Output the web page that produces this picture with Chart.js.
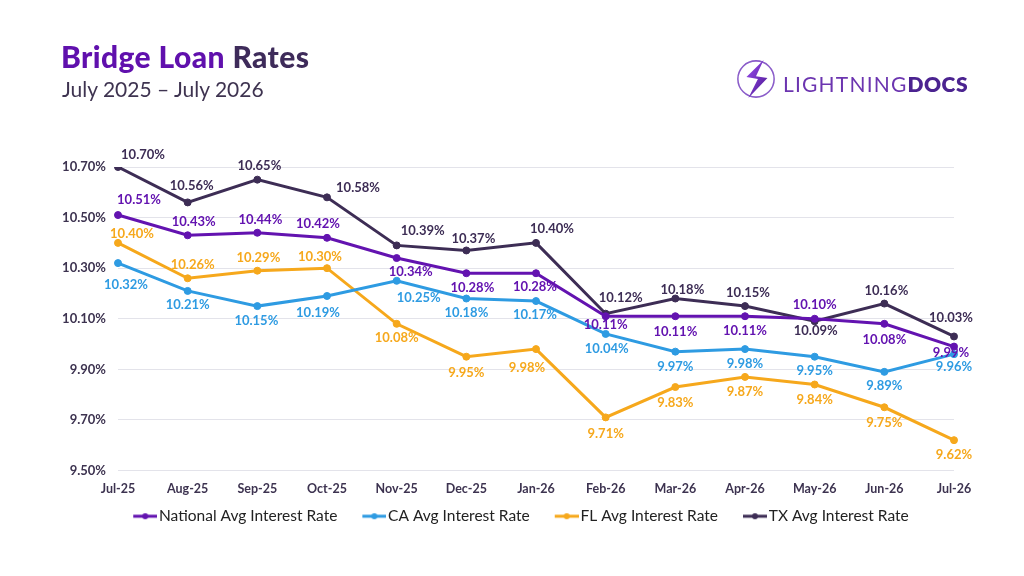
<!DOCTYPE html>
<html>
<head>
<meta charset="utf-8">
<script src="https://cdn.jsdelivr.net/npm/chart.js@4.4.1/dist/chart.umd.min.js"></script>
<style>
html,body{margin:0;padding:0;background:#fff;width:1024px;height:576px;overflow:hidden;font-family:Lato,"Noto Sans",sans-serif}
#wrap{position:relative;width:1024px;height:576px}
#c{position:absolute;left:0;top:0}
.title{position:absolute;left:61px;top:41px;font-size:30px;line-height:1;font-weight:900;letter-spacing:0.4px;white-space:nowrap}
.title .a{color:#6010ad}
.title .b{color:#3e2b5a}
.sub{position:absolute;left:62px;top:78px;font-size:21px;line-height:1;font-weight:400;color:#3e3350;white-space:nowrap}
.logo{position:absolute;left:735px;top:58px;width:42px;height:42px}
.logotext{position:absolute;left:783px;top:73px;font-size:21px;line-height:1;white-space:nowrap;letter-spacing:1.2px}
.logotext .l{color:#6c35b0;font-weight:400}
.logotext .d{color:#4b2390;font-weight:800;letter-spacing:0.5px}
</style>
</head>
<body>
<div id="wrap">
  <canvas id="c" width="1024" height="576"></canvas>
  <div class="title"><span class="a">Bridge Loan</span> <span class="b">Rates</span></div>
  <div class="sub">July 2025 – July 2026</div>
  <svg class="logo" viewBox="0 0 44 44">
    <defs>
      <linearGradient id="g1" x1="0" y1="0" x2="1" y2="1">
        <stop offset="0" stop-color="#9b4df0"/>
        <stop offset="1" stop-color="#4a168f"/>
      </linearGradient>
    </defs>
    <circle cx="22" cy="22" r="19" fill="none" stroke="#8a5cc9" stroke-width="1.6"/>
    <path d="M30 2 L12 20 L24 22 L14 42 L34 21 L22 19 Z" fill="url(#g1)"/>
  </svg>
  <div class="logotext"><span class="l">LIGHTNING</span><span class="d">DOCS</span></div>
</div>
<script>
const categories = ['Jul-25','Aug-25','Sep-25','Oct-25','Nov-25','Dec-25','Jan-26','Feb-26','Mar-26','Apr-26','May-26','Jun-26','Jul-26'];
const seriesNames = ['National Avg Interest Rate','CA Avg Interest Rate','FL Avg Interest Rate','TX Avg Interest Rate'];
const nationalRates = [10.51,10.43,10.44,10.42,10.34,10.28,10.28,10.11,10.11,10.11,10.10,10.08,9.99];
const caRates       = [10.32,10.21,10.15,10.19,10.25,10.18,10.17,10.04,9.97,9.98,9.95,9.89,9.96];
const flRates       = [10.40,10.26,10.29,10.30,10.08,9.95,9.98,9.71,9.83,9.87,9.84,9.75,9.62];
const txRates       = [10.70,10.56,10.65,10.58,10.39,10.37,10.40,10.12,10.18,10.15,10.09,10.16,10.03];
const yTickValues   = [9.5,9.7,9.9,10.1,10.3,10.5,10.7];

// label placement offsets (pixels from point), per series
const nationalLabelOffsets = [[21,-15],[6,-13],[3,-13],[-9,-14],[14,14],[6,15],[-1,14],[0,9],[0,16],[0,15],[0,-14],[0,16],[-3,6]];
const caLabelOffsets       = [[8,22],[0,14],[-1,15],[-9,17],[22,17],[0,14],[-1,14],[1,15],[0,15],[0,15],[0,14],[0,14],[0,13]];
const flLabelOffsets       = [[14,-9],[5,-13],[1,-13],[-7,-11],[0,14],[0,16],[-9,19],[0,16],[0,16],[0,15],[0,15],[0,16],[0,15]];
const txLabelOffsets       = [[25,-12],[4,-17],[2,-14],[31,-10],[26,-15],[7,-12],[16,-14],[15,-16],[7,-9],[3,-13],[1,10],[2,-13],[-3,-19]];

const colors = ['#6313b0','#2e9be2','#f6a81c','#3d2d55'];
const allRates = [nationalRates, caRates, flRates, txRates];
const allOffsets = [nationalLabelOffsets, caLabelOffsets, flLabelOffsets, txLabelOffsets];

// legend marker: short line with a dot, drawn at the right side of a wider transparent canvas
function makeMarker(color){
  const cv = document.createElement('canvas');
  cv.width = 43; cv.height = 10;
  const x = cv.getContext('2d');
  x.strokeStyle = color; x.lineWidth = 3;
  x.beginPath(); x.moveTo(19,5); x.lineTo(43,5); x.stroke();
  x.fillStyle = color;
  x.beginPath(); x.arc(31,5,3,0,Math.PI*2); x.fill();
  return cv;
}
const markers = colors.map(makeMarker);

Chart.defaults.font.family = 'Lato, "Noto Sans", sans-serif';

const datasets = allRates.map((d,i)=>({
  label: seriesNames[i],
  data: d,
  borderColor: colors[i],
  backgroundColor: colors[i],
  pointBackgroundColor: colors[i],
  pointBorderColor: colors[i],
  pointRadius: 3.5,
  pointBorderWidth: 1,
  borderWidth: 3,
  tension: 0,
  labelOffsets: allOffsets[i]
}));

const dataLabels = {
  id: 'dataLabels',
  afterDatasetsDraw(chart){
    const ctx = chart.ctx;
    ctx.save();
    ctx.font = 'bold 13px Lato, "Noto Sans", sans-serif';
    ctx.textAlign = 'center';
    ctx.textBaseline = 'middle';
    chart.data.datasets.forEach((ds,i)=>{
      const meta = chart.getDatasetMeta(i);
      if (meta.hidden) return;
      ctx.fillStyle = ds.borderColor;
      meta.data.forEach((pt,j)=>{
        const off = ds.labelOffsets[j];
        ctx.fillText(ds.data[j].toFixed(2)+'%', pt.x+off[0], pt.y+off[1]);
      });
    });
    ctx.restore();
  }
};

new Chart(document.getElementById('c'), {
  type: 'line',
  data: { labels: categories, datasets },
  plugins: [dataLabels],
  options: {
    responsive: false,
    animation: false,
    layout: { padding: { top: 167, left: 40, right: 35, bottom: 42 } },
    plugins: {
      tooltip: { enabled: false },
      legend: {
        position: 'bottom',
        labels: {
          usePointStyle: true,
          pointStyleWidth: 31,
          padding: 12,
          color: '#222222',
          font: { size: 15.5 },
          generateLabels(chart){
            return Chart.defaults.plugins.legend.labels.generateLabels(chart).map((l,i)=>Object.assign(l,{pointStyle: markers[i]}));
          }
        }
      }
    },
    scales: {
      x: {
        offset: false,
        grid: { display: false, drawTicks: false },
        border: { display: false },
        ticks: { color: '#3d3350', font: { size: 12.5, weight: 'bold' }, padding: 11, maxRotation: 0, autoSkip: false },
        afterFit(s){ s.height = 26; }
      },
      y: {
        min: 9.5, max: 10.7,
        grid: { color: '#e3e3ea', lineWidth: 1, drawTicks: false },
        border: { display: false },
        ticks: { color: '#3d3350', font: { size: 13, weight: 'bold' }, padding: 12,
                 callback: v => Number(v).toFixed(2)+'%' },
        afterBuildTicks(axis){ axis.ticks = yTickValues.map(v=>({value:v})); },
        afterFit(s){ s.width = 78; }
      },
      yRight: {
        position: 'right',
        grid: { display: false, drawTicks: false },
        border: { display: false },
        ticks: { display: false },
        afterFit(s){ s.width = 35; }
      }
    }
  }
});
</script>
</body>
</html>
